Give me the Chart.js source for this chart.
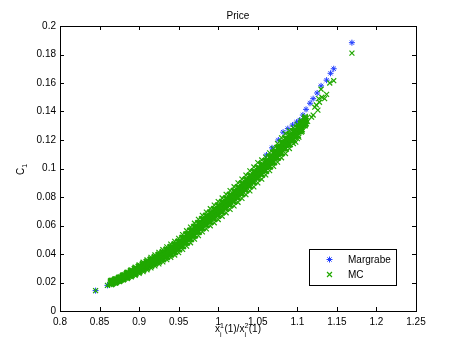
<!DOCTYPE html>
<html>
<head>
<meta charset="utf-8">
<script src="https://cdn.jsdelivr.net/npm/chart.js@4"></script>
<style>
  html, body { margin: 0; padding: 0; background: #fff; }
  canvas { display: block; }
</style>
</head>
<body>
<canvas id="priceChart" width="464" height="352"></canvas>
<script>
const FONT = "'Liberation Sans', Arial, Helvetica, sans-serif";
const BLUE = '#1f3cff';
const GREEN = '#20a800';

const xTicks = [0.8, 0.85, 0.9, 0.95, 1, 1.05, 1.1, 1.15, 1.2, 1.25];
const yTicks = [0, 0.02, 0.04, 0.06, 0.08, 0.1, 0.12, 0.14, 0.16, 0.18, 0.2];

// MC cloud, read column by column (lower edge -> upper edge of the band)
const mcX = [0.865, 0.870, 0.875, 0.880, 0.885, 0.890, 0.895, 0.900, 0.905, 0.910,
             0.915, 0.920, 0.925, 0.930, 0.935, 0.940, 0.945, 0.950, 0.955, 0.960,
             0.965, 0.970, 0.975, 0.980, 0.985, 0.990, 0.995, 1.000, 1.005, 1.010,
             1.015, 1.020, 1.025, 1.030, 1.035, 1.040, 1.045, 1.050, 1.055, 1.060,
             1.065, 1.070, 1.075, 1.080, 1.085, 1.090, 1.095, 1.100, 1.105, 1.110];
const mcLower = [0.0185, 0.0195, 0.0207, 0.0218, 0.0228, 0.0239, 0.0251, 0.0264, 0.0276, 0.0289,
                 0.0302, 0.0316, 0.0330, 0.0345, 0.0360, 0.0377, 0.0393, 0.0410, 0.0432, 0.0455,
                 0.0479, 0.0504, 0.0529, 0.0555, 0.0576, 0.0598, 0.0619, 0.0642, 0.0665, 0.0689,
                 0.0713, 0.0738, 0.0763, 0.0790, 0.0816, 0.0843, 0.0871, 0.0899, 0.0925, 0.0955,
                 0.0985, 0.1015, 0.1045, 0.1075, 0.1105, 0.1140, 0.1175, 0.1210, 0.1255, 0.1300];
const mcLowMid = [0.0193, 0.0203, 0.0215, 0.0227, 0.0239, 0.0252, 0.0265, 0.0279, 0.0293, 0.0307,
                  0.0321, 0.0336, 0.0351, 0.0367, 0.0383, 0.0400, 0.0417, 0.0435, 0.0458, 0.0482,
                  0.0507, 0.0532, 0.0558, 0.0584, 0.0606, 0.0628, 0.0650, 0.0674, 0.0697, 0.0722,
                  0.0746, 0.0772, 0.0797, 0.0824, 0.0851, 0.0878, 0.0906, 0.0935, 0.0959, 0.0986,
                  0.1016, 0.1046, 0.1078, 0.1110, 0.1140, 0.1171, 0.1203, 0.1235, 0.1275, 0.1316];
const mcMid = [0.0200, 0.0210, 0.0222, 0.0236, 0.0250, 0.0264, 0.0279, 0.0294, 0.0309, 0.0324,
               0.0339, 0.0355, 0.0371, 0.0388, 0.0405, 0.0423, 0.0441, 0.0460, 0.0484, 0.0509,
               0.0534, 0.0560, 0.0586, 0.0613, 0.0635, 0.0658, 0.0681, 0.0705, 0.0729, 0.0754,
               0.0779, 0.0805, 0.0831, 0.0858, 0.0885, 0.0913, 0.0941, 0.0970, 0.0993, 0.1018,
               0.1048, 0.1078, 0.1110, 0.1145, 0.1175, 0.1203, 0.1230, 0.1260, 0.1295, 0.1333];
const mcHighMid = [0.0208, 0.0218, 0.0230, 0.0245, 0.0261, 0.0277, 0.0293, 0.0309, 0.0326, 0.0342,
                   0.0358, 0.0375, 0.0392, 0.0410, 0.0428, 0.0446, 0.0465, 0.0485, 0.0510, 0.0536,
                   0.0562, 0.0588, 0.0615, 0.0642, 0.0665, 0.0688, 0.0712, 0.0737, 0.0761, 0.0787,
                   0.0812, 0.0839, 0.0865, 0.0892, 0.0920, 0.0948, 0.0976, 0.1006, 0.1026, 0.1049,
                   0.1079, 0.1109, 0.1143, 0.1180, 0.1210, 0.1234, 0.1258, 0.1285, 0.1315, 0.1349];
const mcUpper = [0.0215, 0.0225, 0.0237, 0.0254, 0.0272, 0.0289, 0.0307, 0.0324, 0.0342, 0.0359,
                 0.0376, 0.0394, 0.0412, 0.0431, 0.0450, 0.0469, 0.0489, 0.0510, 0.0536, 0.0563,
                 0.0589, 0.0616, 0.0643, 0.0671, 0.0694, 0.0718, 0.0743, 0.0768, 0.0793, 0.0819,
                 0.0845, 0.0872, 0.0899, 0.0926, 0.0954, 0.0983, 0.1011, 0.1041, 0.1060, 0.1080,
                 0.1110, 0.1140, 0.1175, 0.1215, 0.1245, 0.1265, 0.1285, 0.1310, 0.1335, 0.1365];

// in-between columns of the same cloud
const mcXHalf = [0.8675, 0.8725, 0.8775, 0.8825, 0.8875, 0.8925, 0.8975, 0.9025, 0.9075, 0.9125,
                 0.9175, 0.9225, 0.9275, 0.9325, 0.9375, 0.9425, 0.9475, 0.9525, 0.9575, 0.9625,
                 0.9675, 0.9725, 0.9775, 0.9825, 0.9875, 0.9925, 0.9975, 1.0025, 1.0075, 1.0125,
                 1.0175, 1.0225, 1.0275, 1.0325, 1.0375, 1.0425, 1.0475, 1.0525, 1.0575, 1.0625,
                 1.0675, 1.0725, 1.0775, 1.0825, 1.0875, 1.0925, 1.0975, 1.1025, 1.1075];
const mcHalfLow = [0.0202, 0.0213, 0.0225, 0.0238, 0.0251, 0.0265, 0.0279, 0.0294, 0.0308, 0.0323,
                   0.0338, 0.0353, 0.0369, 0.0386, 0.0403, 0.0420, 0.0438, 0.0459, 0.0483, 0.0508,
                   0.0533, 0.0559, 0.0585, 0.0610, 0.0632, 0.0654, 0.0678, 0.0701, 0.0726, 0.0750,
                   0.0776, 0.0801, 0.0828, 0.0855, 0.0882, 0.0910, 0.0938, 0.0964, 0.0989, 0.1017,
                   0.1047, 0.1078, 0.1111, 0.1143, 0.1172, 0.1202, 0.1232, 0.1266, 0.1305];
const mcHalfHigh = [0.0209, 0.0220, 0.0233, 0.0248, 0.0263, 0.0278, 0.0294, 0.0310, 0.0325, 0.0341,
                    0.0357, 0.0373, 0.0390, 0.0408, 0.0426, 0.0444, 0.0463, 0.0485, 0.0510, 0.0535,
                    0.0561, 0.0587, 0.0614, 0.0639, 0.0662, 0.0685, 0.0709, 0.0733, 0.0758, 0.0783,
                    0.0809, 0.0835, 0.0862, 0.0889, 0.0917, 0.0945, 0.0973, 0.0999, 0.1022, 0.1049,
                    0.1079, 0.1110, 0.1145, 0.1178, 0.1206, 0.1231, 0.1258, 0.1289, 0.1323];

// MC points outside the dense band (low end + scattered tip)
const mcExtraX = [0.845, 0.860, 0.863, 1.098, 1.102, 1.106, 1.113, 1.118, 1.120, 1.122,
                  1.124, 1.126, 1.127, 1.128, 1.130, 1.131, 1.1345, 1.137, 1.141, 1.146, 1.169];
const mcExtraY = [0.0143, 0.0180, 0.0186, 0.1185, 0.1220, 0.1260, 0.1330, 0.1360, 0.1375, 0.1430,
                  0.1446, 0.1410, 0.1490, 0.1465, 0.1556, 0.1500, 0.1490, 0.1520, 0.1600, 0.1616, 0.1810];

// Margrabe prices
const margX = [0.845, 0.860, 0.867, 0.872, 0.877, 0.882, 0.886,
               0.890, 0.900, 0.910, 0.920, 0.930, 0.940, 0.950, 0.960, 0.970, 0.980,
               0.990, 1.000, 1.010, 1.020, 1.030, 1.040, 1.050,
               1.061, 1.068, 1.076, 1.082, 1.088, 1.094, 1.099, 1.103, 1.107, 1.111,
               1.116, 1.120, 1.125, 1.130, 1.137, 1.142, 1.146, 1.169];
const margY = [0.0143, 0.0180, 0.0194, 0.0206, 0.0218, 0.0240, 0.0253,
               0.0264, 0.0294, 0.0324, 0.0355, 0.0388, 0.0423, 0.0460, 0.0509, 0.0560, 0.0613,
               0.0658, 0.0705, 0.0754, 0.0805, 0.0858, 0.0913, 0.0970,
               0.1095, 0.1145, 0.1200, 0.1255, 0.1280, 0.1305, 0.1325, 0.1340, 0.1375, 0.1415,
               0.1458, 0.1490, 0.1530, 0.1580, 0.1620, 0.1668, 0.1700, 0.1883];

function rowsToPoints(xs, rows) {
    const pts = [];
    rows.forEach(row => row.forEach((y, i) => pts.push({ x: xs[i], y: y })));
    return pts;
}
// band core is drawn with heavier crosses so the dense cloud reads as solid
const mcCore = rowsToPoints(mcX, [mcLowMid, mcMid, mcHighMid])
    .concat(rowsToPoints(mcXHalf, [mcHalfLow, mcHalfHigh]));
const mcEdge = rowsToPoints(mcX, [mcLower, mcUpper]);
mcExtraX.forEach((x, i) => mcEdge.push({ x: x, y: mcExtraY[i] }));
const margPoints = margX.map((x, i) => ({ x: x, y: margY[i] }));

// small glyph helpers for the legend
function drawStar(ctx, x, y, r) {
    ctx.beginPath();
    ctx.moveTo(x - r, y); ctx.lineTo(x + r, y);
    ctx.moveTo(x, y - r); ctx.lineTo(x, y + r);
    const d = r * 0.707;
    ctx.moveTo(x - d, y - d); ctx.lineTo(x + d, y + d);
    ctx.moveTo(x - d, y + d); ctx.lineTo(x + d, y - d);
    ctx.stroke();
}
function drawX(ctx, x, y, r) {
    const d = r * 0.707;
    ctx.beginPath();
    ctx.moveTo(x - d, y - d); ctx.lineTo(x + d, y + d);
    ctx.moveTo(x - d, y + d); ctx.lineTo(x + d, y - d);
    ctx.stroke();
}

const matlabFrame = {
    id: 'matlabFrame',
    afterDatasetsDraw(chart) {
        const { ctx, chartArea: a, scales } = chart;
        ctx.save();
        ctx.strokeStyle = '#000';
        ctx.lineWidth = 1;
        ctx.strokeRect(a.left + 0.5, a.top + 0.5, a.right - a.left, a.bottom - a.top);

        ctx.beginPath();
        xTicks.forEach(v => {
            const px = Math.round(scales.x.getPixelForValue(v)) + 0.5;
            ctx.moveTo(px, a.bottom); ctx.lineTo(px, a.bottom - 4);
            ctx.moveTo(px, a.top); ctx.lineTo(px, a.top + 4);
        });
        yTicks.forEach(v => {
            const py = Math.round(scales.y.getPixelForValue(v)) + 0.5;
            ctx.moveTo(a.left, py); ctx.lineTo(a.left + 4, py);
            ctx.moveTo(a.right, py); ctx.lineTo(a.right - 4, py);
        });
        ctx.stroke();
        ctx.restore();
    },
    afterDraw(chart) {
        const { ctx, chartArea: a } = chart;
        const cx = (a.left + a.right) / 2;
        ctx.save();
        ctx.fillStyle = '#000';

        // title
        ctx.font = '10px ' + FONT;
        ctx.textAlign = 'center';
        ctx.textBaseline = 'middle';
        ctx.fillText('Price', cx, 16);

        // x label: x_i^1(1)/x_i^2(1)
        const parts = [
            { t: 'x' }, { sub: 'i', sup: '1' }, { t: '(1)/x' }, { sub: 'i', sup: '2' }, { t: '(1)' }
        ];
        ctx.textAlign = 'left';
        ctx.textBaseline = 'alphabetic';
        let total = 0;
        parts.forEach(p => {
            if (p.t) { ctx.font = '10px ' + FONT; p.w = ctx.measureText(p.t).width; }
            else { ctx.font = '7px ' + FONT; p.w = Math.max(ctx.measureText(p.sub).width, ctx.measureText(p.sup).width) + 0.5; }
            total += p.w;
        });
        let px = cx - total / 2;
        const base = 332;
        parts.forEach(p => {
            if (p.t) {
                ctx.font = '10px ' + FONT;
                ctx.fillText(p.t, px, base);
            } else {
                ctx.font = '7px ' + FONT;
                ctx.fillText(p.sup, px, base - 4.5);
                ctx.fillText(p.sub, px, base + 5);
            }
            px += p.w;
        });

        // y label: C_1
        ctx.translate(24, 175);
        ctx.rotate(-Math.PI / 2);
        ctx.font = '10px ' + FONT;
        ctx.fillText('C', 0, 0);
        const cw = ctx.measureText('C').width;
        ctx.font = '7px ' + FONT;
        ctx.fillText('1', cw, 3);
        ctx.setTransform(1, 0, 0, 1, 0, 0);

        // legend box
        ctx.fillStyle = '#fff';
        ctx.fillRect(309.5, 249.5, 87, 36);
        ctx.strokeStyle = '#000';
        ctx.lineWidth = 1;
        ctx.strokeRect(309.5, 249.5, 87, 36);
        ctx.strokeStyle = BLUE;
        drawStar(ctx, 329.5, 259.5, 3);
        ctx.strokeStyle = GREEN;
        ctx.lineWidth = 1.2;
        drawX(ctx, 329.5, 274.5, 3.5);
        ctx.fillStyle = '#000';
        ctx.font = '10px ' + FONT;
        ctx.textBaseline = 'middle';
        ctx.fillText('Margrabe', 348, 260);
        ctx.fillText('MC', 348, 275);
        ctx.restore();
    }
};

const tickFont = { family: FONT, size: 10 };
const fmt = v => String(+Number(v).toFixed(2));

new Chart(document.getElementById('priceChart').getContext('2d'), {
    type: 'scatter',
    data: {
        datasets: [
            {
                label: 'Margrabe',
                data: margPoints,
                pointStyle: 'star',
                pointRadius: 3,
                pointBorderWidth: 1,
                pointBorderColor: BLUE,
                pointBackgroundColor: BLUE,
                order: 2
            },
            {
                label: 'MC',
                data: mcEdge,
                pointStyle: 'crossRot',
                pointRadius: 3.5,
                pointBorderWidth: 1.2,
                pointBorderColor: GREEN,
                pointBackgroundColor: GREEN,
                order: 1
            },
            {
                label: 'MC',
                data: mcCore,
                pointStyle: 'crossRot',
                pointRadius: 4.5,
                pointBorderWidth: 2.2,
                pointBorderColor: GREEN,
                pointBackgroundColor: GREEN,
                order: 0
            }
        ]
    },
    options: {
        responsive: false,
        animation: false,
        devicePixelRatio: 1,
        events: [],
        layout: { padding: { top: 26, right: 48, left: 0, bottom: 0 } },
        plugins: { legend: { display: false }, tooltip: { enabled: false }, title: { display: false } },
        scales: {
            x: {
                type: 'linear', min: 0.8, max: 1.25,
                afterFit: s => { s.height = 41; },
                afterBuildTicks: s => { s.ticks = xTicks.map(v => ({ value: v })); },
                grid: { display: false, drawTicks: false },
                border: { display: false },
                ticks: { padding: 5, color: '#000', font: tickFont, maxRotation: 0, autoSkip: false, callback: fmt }
            },
            y: {
                type: 'linear', min: 0, max: 0.2,
                afterFit: s => { s.width = 60; },
                afterBuildTicks: s => { s.ticks = yTicks.map(v => ({ value: v })); },
                grid: { display: false, drawTicks: false },
                border: { display: false },
                ticks: { padding: 4, color: '#000', font: tickFont, autoSkip: false, callback: fmt }
            }
        }
    },
    plugins: [matlabFrame]
});
</script>
</body>
</html>
